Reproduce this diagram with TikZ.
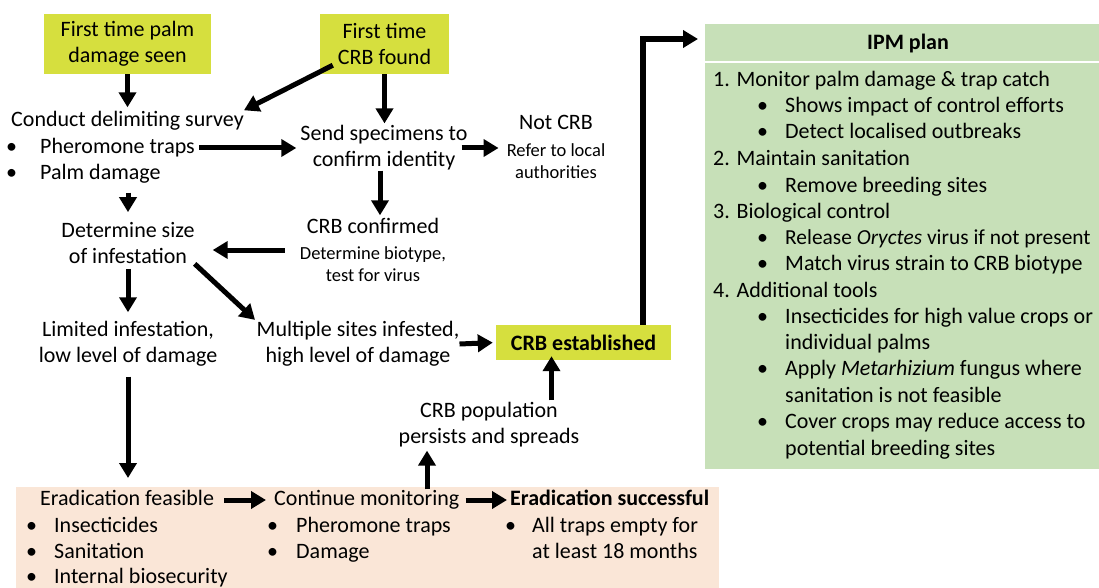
\documentclass[tikz,border=0pt]{standalone}
\usepackage{fontspec}
\setmainfont{Carlito}
\usetikzlibrary{arrows.meta,calc}
\definecolor{ylw}{RGB}{214,223,62}
\definecolor{grn}{RGB}{199,224,184}
\definecolor{pch}{RGB}{250,230,215}
\begin{document}
\begin{tikzpicture}[x=1pt,y=-1pt,
  txt/.style={inner sep=0pt, font=\fontsize{22}{26}\selectfont, align=center},
  one/.style={inner sep=0pt, font=\fontsize{22}{26}\selectfont, text height=16pt, text depth=5pt},
  sml/.style={inner sep=0pt, font=\fontsize{18.5}{22}\selectfont, align=center},
  lft/.style={inner sep=0pt, font=\fontsize{22}{26}\selectfont, anchor=west, text height=16pt, text depth=5pt},
  ybox/.style={fill=ylw, inner sep=0pt, font=\fontsize{22}{26}\selectfont, align=center},
  arr/.style={line width=5pt, -{Triangle[length=15pt,width=17pt]}},
  ]
\useasboundingbox (0,0) rectangle (1099,588);
% background panels
\node[fill=pch, inner sep=0pt, minimum width=703pt, minimum height=101pt, anchor=north west] (erad) at (16,487) {};
\node[fill=grn, inner sep=0pt, minimum width=394pt, minimum height=445pt, anchor=north west] (ipm) at (705,24) {};
\draw[white, line width=1.5pt] ($(ipm.north west)+(0,38)$) -- ($(ipm.north east)+(0,38)$);

% top boxes
\node[ybox, minimum width=167pt, minimum height=60pt] (box1) at (127.5,44) {First time palm\\damage seen};
\node[ybox, minimum width=129pt, minimum height=60pt] (box2) at (384.5,44) {First time\\CRB found};

% survey
\node[lft] (survey) at (11,121) {Conduct delimiting survey};
\node[lft] (bu1) at (6,148) {•};
\node[lft] (st1) at (40,148) {Pheromone traps};
\node[lft] (bu2) at (6,174) {•};
\node[lft] (st2) at (40,174) {Palm damage};

\node[txt] (send) at (384,148) {Send specimens to\\confirm identity};
\node[one] (notcrb) at (556,124) {Not CRB};
\node[sml] (refer) at (556,161) {Refer to local\\authorities};

\node[txt] (size) at (128,243) {Determine size\\of infestation};
\node[one] (confirmed) at (373,228) {CRB confirmed};
\node[sml] (biotype) at (373,264) {Determine biotype,\\test for virus};

\node[txt] (limited) at (128,344) {Limited infestation,\\low level of damage};
\node[txt] (multiple) at (358,344) {Multiple sites infested,\\high level of damage};
\node[ybox, minimum width=175pt, minimum height=35pt] (estab) at (583.5,342.5) {\textbf{CRB established}};
\node[txt] (pop) at (489,425) {CRB population\\persists and spreads};

% bottom panel text
\node[lft] (feas) at (40,500) {Eradication feasible};
\node[lft] (cont) at (274,500) {Continue monitoring};
\node[lft] (succ) at (510,500) {\textbf{Eradication successful}};
\node[lft] (eb1) at (26,527) {•};
\node[lft] (ei1) at (54,527) {Insecticides};
\node[lft] (eb2) at (26,553) {•};
\node[lft] (ei2) at (54,553) {Sanitation};
\node[lft] (eb3) at (26,578) {•};
\node[lft] (ei3) at (54,578) {Internal biosecurity};
\node[lft] (cb1) at (267,527) {•};
\node[lft] (ci1) at (296,527) {Pheromone traps};
\node[lft] (cb2) at (267,553) {•};
\node[lft] (ci2) at (296,553) {Damage};
\node[lft] (sb1) at (505,527) {•};
\node[lft] (si1) at (532,527) {All traps empty for};
\node[lft] (si2) at (532,553) {at least 18 months};

% IPM plan
\node[one] (ipmt) at (908,44) {\textbf{IPM plan}};
\node[lft] (p1) at (713,81) {1. Monitor palm damage \& trap catch};
\node[lft] (p1b1) at (757,107) {•};
\node[lft] (p1a) at (785,107) {Shows impact of control efforts};
\node[lft] (p1b2) at (757,133) {•};
\node[lft] (p1c) at (785,133) {Detect localised outbreaks};
\node[lft] (p2) at (713,160) {2. Maintain sanitation};
\node[lft] (p2b1) at (757,187) {•};
\node[lft] (p2a) at (785,187) {Remove breeding sites};
\node[lft] (p3) at (713,213) {3. Biological control};
\node[lft] (p3b1) at (757,239) {•};
\node[lft, font=\fontsize{21.4}{26}\selectfont] (p3a) at (785,239) {Release \textit{Oryctes} virus if not present};
\node[lft] (p3b2) at (757,265) {•};
\node[lft] (p3c) at (785,265) {Match virus strain to CRB biotype};
\node[lft] (p4) at (713,292) {4. Additional tools};
\node[lft] (p4b1) at (757,318) {•};
\node[lft] (p4a) at (785,318) {Insecticides for high value crops or};
\node[lft] (p4a2) at (785,344) {individual palms};
\node[lft] (p4b2) at (757,370) {•};
\node[lft] (p4c) at (785,370) {Apply \textit{Metarhizium} fungus where};
\node[lft] (p4c2) at (785,397) {sanitation is not feasible};
\node[lft] (p4b3) at (757,423) {•};
\node[lft] (p4d) at (785,423) {Cover crops may reduce access to};
\node[lft] (p4d2) at (785,450) {potential breeding sites};

% connectors
\draw[arr, shorten >=3pt] (box1.south) -- (box1.south |- survey.north);
\draw[arr] ($(box2.south west)+(13,-9)$) -- (survey.north east);
\draw[arr, shorten >=2pt] (box2.south) -- (box2.south |- send.north);
\draw[arr, shorten <=4pt, shorten >=4pt] (st1.east) -- (send.west |- st1.east);
\draw[arr, shorten <=-6pt, shorten >=8pt] (send.east) -- (send.east -| refer.west);
\draw[arr, shorten >=2pt] ([xshift=-4pt]send.south) -- ([xshift=-4pt]send.south |- confirmed.north);
\draw[arr, shorten <=8pt, shorten >=10pt] (size.north |- st2.south) -- (size.north);
\draw[arr, shorten <=15pt, shorten >=18pt] ([yshift=14pt]biotype.west) -- ([yshift=14pt]biotype.west -| size.east);
\draw[arr, shorten >=2pt] (size.south east) -- (multiple.north west);
\draw[arr, shorten <=5pt, shorten >=9pt] (size.south) -- (limited.north);
\draw[arr, shorten >=3pt] (multiple.east) -- (estab.west);
\draw[arr, shorten <=2pt, shorten >=-4pt] ([xshift=-32pt]estab.south |- pop.north) -- ([xshift=-32pt]estab.south);
\draw[arr, shorten >=3pt] ([xshift=-62pt]pop.south |- cont.north) -- ([xshift=-62pt]pop.south);
\draw[arr, shorten <=10pt, shorten >=9pt] (limited.south) -- (limited.south |- erad.north);
\draw[arr, shorten <=10pt, shorten >=8pt] (feas.east) -- (cont.west);
\draw[arr, shorten <=6pt, shorten >=3pt] (cont.east) -- (succ.west);
\draw[arr, line width=6pt, shorten >=7pt] ([xshift=59.5pt]estab.north) |- (ipm.west |- 0,39);
\end{tikzpicture}
\end{document}
